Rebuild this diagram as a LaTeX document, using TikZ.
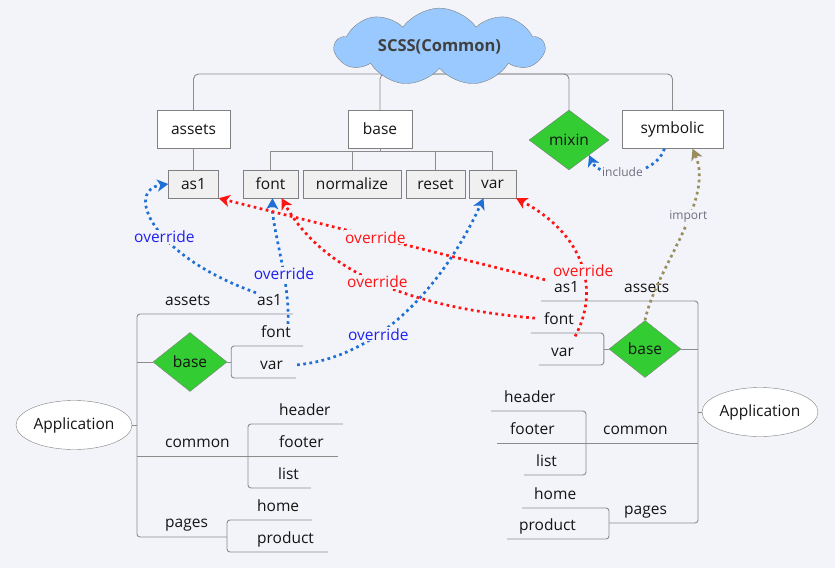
\documentclass[tikz,border=0pt]{standalone}
\usepackage{fontspec}
\setmainfont{Open Sans}
\usetikzlibrary{arrows.meta,shapes.geometric,shapes.symbols}

\definecolor{bg}{HTML}{F2F4F9}
\definecolor{treegray}{HTML}{8C8C8C}
\definecolor{boxgray}{HTML}{808080}
\definecolor{leafgray}{HTML}{F0F0F0}
\definecolor{cloudblue}{HTML}{99C9FF}
\definecolor{mixgreen}{HTML}{33CC33}
\definecolor{ovblue}{HTML}{1E6FD6}
\definecolor{ovbluetxt}{HTML}{2020F0}
\definecolor{ovred}{HTML}{FF1414}
\definecolor{impolive}{HTML}{9A8D5E}
\definecolor{notegray}{HTML}{6E6E80}
\definecolor{ink}{HTML}{141414}

\tikzset{
  tree/.style={draw=treegray, line width=0.9pt},
  topbox/.style={draw=boxgray, fill=white, minimum height=38pt, inner sep=0pt, text=ink},
  leafbox/.style={draw=boxgray, fill=leafgray, minimum height=28pt, inner sep=0pt, text=ink},
  gdiamond/.style={diamond, draw=boxgray, fill=mixgreen, inner sep=0pt, text=ink},
  app/.style={ellipse, draw=boxgray, fill=white, minimum width=116pt, minimum height=49pt, inner sep=0pt, text=ink},
  topic/.style={anchor=base west, inner sep=1pt, text=ink},
  link/.style={line width=2.7pt, dash pattern=on 2.7pt off 3.5pt, -{Stealth[length=11pt,width=12pt,inset=3pt]}},
  lab/.style={fill=bg, inner sep=1pt},
  small/.style={fill=bg, inner sep=1pt, text=notegray, font=\fontsize{12}{14}\selectfont},
}

\begin{document}
\begin{tikzpicture}[x=1pt, y=-1pt, font=\fontsize{15.5}{18}\selectfont]
  \fill[bg] (0,0) rectangle (835,568);
  \useasboundingbox (0,0) rectangle (835,568);

  % common library, top row
  \node[topbox, minimum width=73pt] (tassets) at (193.5,129) {assets};
  \node[topbox, minimum width=64pt] (tbase) at (380,129) {base};
  \node[gdiamond, minimum width=80pt, minimum height=60pt] (mixin) at (569,140) {mixin};
  \node[topbox, minimum width=101pt] (tsymb) at (672.5,129.5) {symbolic};
  \node[leafbox, minimum width=50pt] (tas1) at (193.5,184) {as1};
  \node[leafbox, minimum width=55pt] (tfont) at (270.5,184) {font};
  \node[leafbox, minimum width=98pt] (tnorm) at (352,184) {normalize};
  \node[leafbox, minimum width=59pt] (treset) at (435.5,184) {reset};
  \node[leafbox, minimum width=47pt] (tvar) at (492.5,184) {var};

  \coordinate (ttop) at (440,74);
  \draw[tree, rounded corners=5pt] (tassets.north) |- (ttop) -| (tsymb.north);
  \draw[tree, rounded corners=5pt] (tbase.north) |- (ttop) -| (mixin.north);
  \draw[tree] (tassets) -- (tas1);
  \draw[tree] (tbase.south) -- ++(0,4);
  \draw[tree] (tfont.north) -- ++(0,-18) -| (tvar.north);
  \draw[tree] (tnorm.north) -- ++(0,-18);
  \draw[tree] (treset.north) -- ++(0,-18);

  \node[cloud, cloud puffs=9, cloud puff arc=110, aspect=3.5, minimum width=209pt,
    minimum height=60pt, inner sep=0pt, draw=boxgray, fill=cloudblue,
    text=black!75, font=\bfseries\fontsize{16.5}{19}\selectfont] (scss) at (439.5,47) {SCSS(Common)};

  % left application
  \node[app] (lapp) at (74,425) {Application};
  \node[gdiamond, minimum width=74pt, minimum height=59pt] (lbase) at (190,362) {base};
  \node[topic] (lassets) at (164,305) {assets};
  \node[topic] (las1) at (256,305) {as1};
  \node[topic] (lfont) at (260,337) {font};
  \node[topic] (lvar) at (259,369) {var};
  \node[topic] (lcommon) at (164,447) {common};
  \node[topic] (lheader) at (278,415) {header};
  \node[topic] (lfooter) at (278,447) {footer};
  \node[topic] (llist) at (277,479) {list};
  \node[topic] (lpages) at (164,527) {pages};
  \node[topic] (lhome) at (256,511) {home};
  \node[topic] (lproduct) at (256,543) {product};

  \coordinate (lbarT) at (137,314);
  \coordinate (lbarB) at (137,537);
  \coordinate (lcm) at (137,456);
  \draw[tree, rounded corners=3pt] (lbarT) ++(156,0) -- (lbarT) -- (lbarB) -- ++(90,0) coordinate (lpg);
  \draw[tree] (lapp.east) -- (lapp.east -| lbarT);
  \draw[tree] (lbase.west) -- (lbase.west -| lbarT);
  \draw[tree] (lbase.east) -- ++(4,0) coordinate (lbs);
  \draw[tree, rounded corners=3pt] (lbs) ++(72,-16) -| (lbs) |- ++(65,16);
  \draw[tree] (lcm) -- ++(201,0);
  \draw[tree, rounded corners=3pt] (lcm) ++(206,-32) -| ++(-95,64) -- ++(63,0);
  \draw[tree, rounded corners=3pt] (lpg) ++(85,-17) -| (lpg) |- ++(101,15);

  % right application
  \node[app] (rapp) at (760,412) {Application};
  \node[gdiamond, minimum width=72pt, minimum height=57pt] (rbase) at (645,349) {base};
  \node[topic] (ras1) at (553,292) {as1};
  \node[topic] (rassets) at (623,292) {assets};
  \node[topic] (rfont) at (543,324) {font};
  \node[topic] (rvar) at (550,356) {var};
  \node[topic] (rheader) at (503,402) {header};
  \node[topic] (rfooter) at (509,434) {footer};
  \node[topic] (rcommon) at (602,434) {common};
  \node[topic] (rlist) at (535,466) {list};
  \node[topic] (rhome) at (533,499) {home};
  \node[topic] (rproduct) at (518,530) {product};
  \node[topic] (rpages) at (623,514) {pages};

  \coordinate (rbarT) at (698,301);
  \coordinate (rbarB) at (698,523);
  \coordinate (rcm) at (698,443);
  \draw[tree, rounded corners=3pt] (rbarT) ++(-157,0) -- (rbarT) -- (rbarB) -- ++(-89,0) coordinate (rpg);
  \draw[tree] (rapp.west) -- (rapp.west -| rbarT);
  \draw[tree] (rbase.east) -- (rbase.east -| rbarT);
  \draw[tree] (rbase.west) -- ++(-5,0) coordinate (rbs);
  \draw[tree, rounded corners=3pt] (rbs) ++(-73,-16) -| (rbs) |- ++(-65,16);
  \draw[tree] (rcm) -- ++(-201,0);
  \draw[tree, rounded corners=3pt] (rcm) ++(-207,-32) -| ++(95,64) -- ++(-62,0);
  \draw[tree, rounded corners=3pt] (rpg) ++(-87,-15) -| (rpg) |- ++(-102,16);

  % overrides into the common library
  \draw[link, ovblue] (las1.north west) .. controls (150,255) and (125,190) .. (tas1.west)
    node[lab, text=ovbluetxt, pos=0.42] {override};
  \draw[link, ovblue] ([xshift=-4pt]lfont.north east) .. controls (290,280) and (272,230) .. ([xshift=2pt]tfont.south)
    node[lab, text=ovbluetxt, pos=0.37] {override};
  \draw[link, ovblue] ([xshift=13pt]lvar.east) .. controls (400,355) and (460,250) .. ([xshift=-9pt]tvar.south)
    node[lab, text=ovbluetxt, pos=0.3] {override};
  \draw[link, ovred] ([xshift=-8pt]ras1.north west) -- (tas1.south east)
    node[lab, text=ovred, pos=0.52] {override};
  \draw[link, ovred] ([xshift=-8pt]rfont.west) .. controls (440,310) and (330,285) .. ([xshift=11pt]tfont.south)
    node[lab, text=ovred, pos=0.55] {override};
  \draw[link, ovred] ([yshift=10pt]rvar.north east) .. controls (600,290) and (585,235) .. (tvar.south east)
    node[lab, text=ovred, pos=0.45] {override};
  % include / import
  \draw[link, ovblue] ([xshift=-8pt]tsymb.south) .. controls (655,178) and (600,180) .. (mixin.south east)
    node[small, pos=0.55] {include};
  \draw[link, impolive] (rbase.north) .. controls (655,270) and (715,200) .. ([xshift=20pt]tsymb.south)
    node[small, pos=0.6] {import};
\end{tikzpicture}
\end{document}
